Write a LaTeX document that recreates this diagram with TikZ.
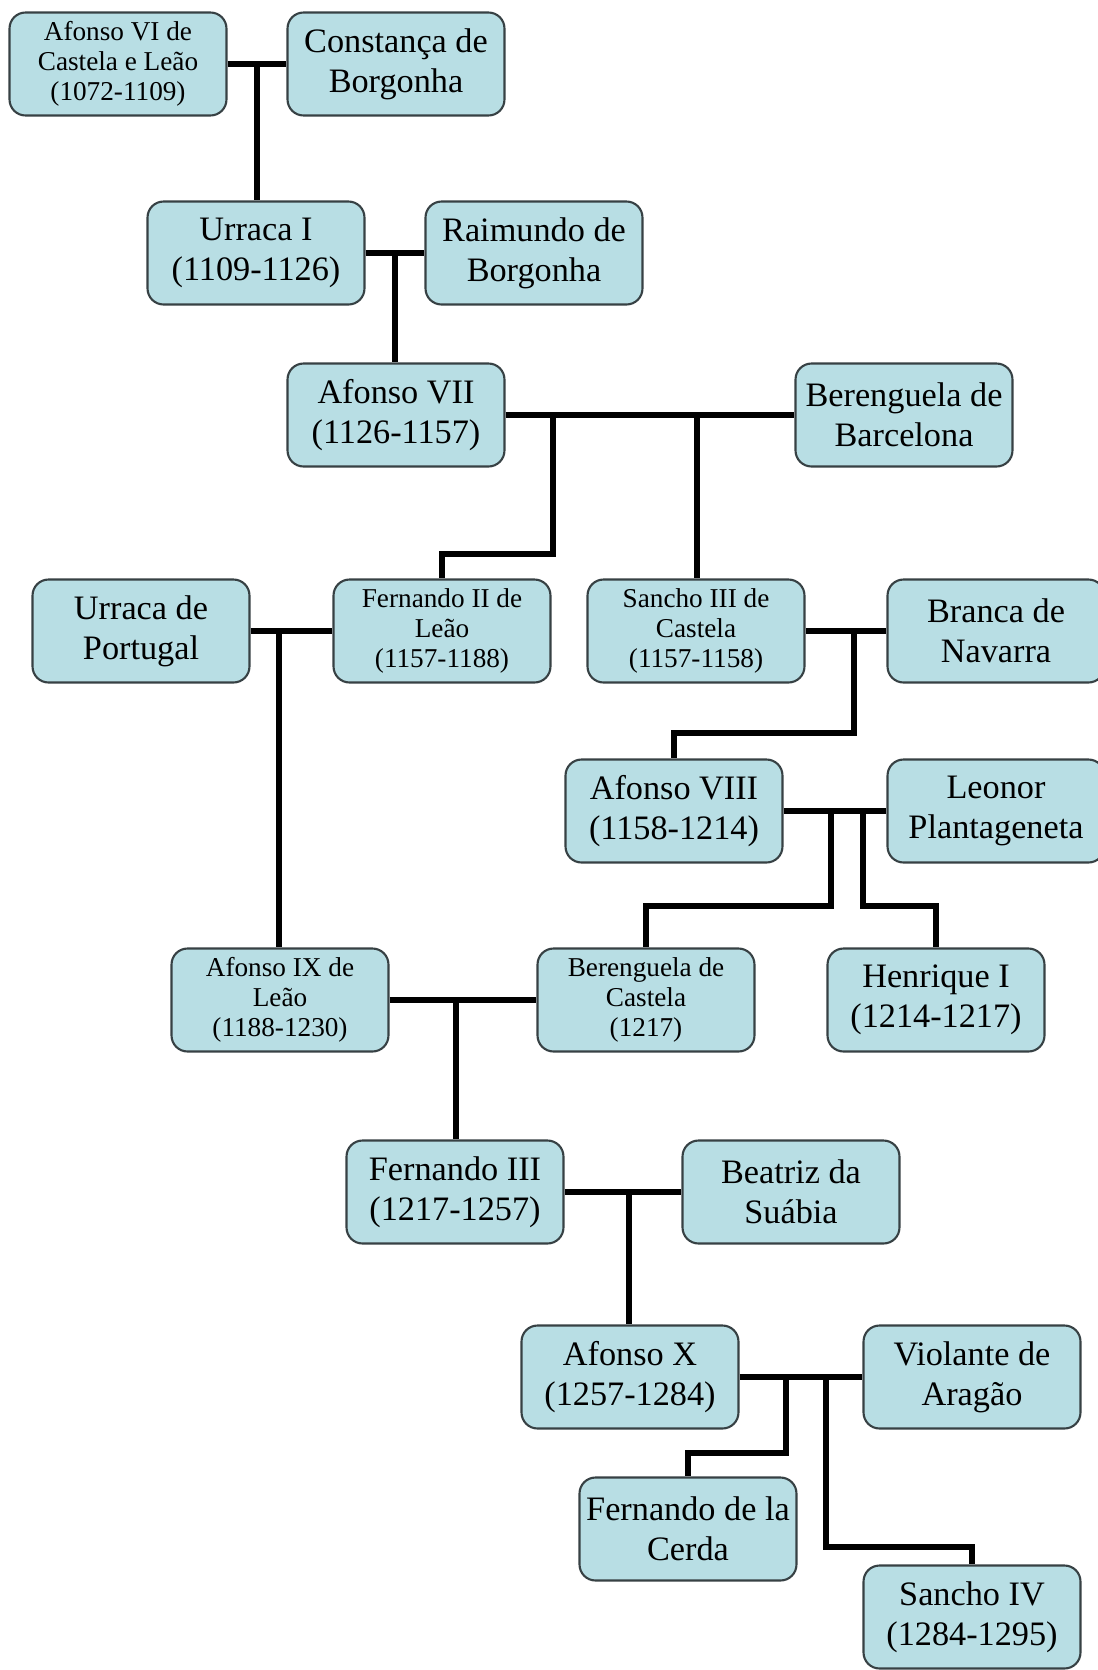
\documentclass[tikz,border=0pt]{standalone}
\usepackage{fontspec}
\setmainfont{Liberation Serif}
\usepackage{tikz}
\usetikzlibrary{positioning,calc}
\usepackage{xcolor}
\definecolor{caixa}{RGB}{184,222,228}
\definecolor{borda}{RGB}{55,65,68}

\tikzset{
  pessoa/.style={draw=borda,line width=1.2pt,fill=caixa,rounded corners=0.32cm,
    minimum width=4.34cm,minimum height=2.06cm,inner sep=0pt,align=center,
    font=\fontsize{19.5}{22.8}\selectfont},
  pessoapeq/.style={pessoa,font=\fontsize{15.5}{17}\selectfont},
  linha/.style={line width=3.3pt,line join=miter}
}

\begin{document}
\begin{tikzpicture}[x=0.02cm,y=-0.02cm]
\useasboundingbox (0,0) rectangle (1098,1670);
\node[pessoapeq] (afonsoVI) at (118,64) {Afonso VI de\\Castela e Leão\\(1072-1109)};
\node[pessoa] (constanca) at (396,64) {Constança de\\Borgonha};
\node[pessoa] (urracaI) at (256,253) {Urraca I\\(1109-1126)};
\node[pessoa] (raimundo) at (534,253) {Raimundo de\\Borgonha};
\node[pessoa] (afonsoVII) at (396,415) {Afonso VII\\(1126-1157)};
\node[pessoa] (berBarcelona) at (904,415) {Berenguela de\\Barcelona};
\node[pessoa] (urracaPort) at (141,631) {Urraca de\\Portugal};
\node[pessoapeq] (fernandoII) at (442,631) {Fernando II de\\Leão\\(1157-1188)};
\node[pessoapeq] (sanchoIII) at (696,631) {Sancho III de\\Castela\\(1157-1158)};
\node[pessoa] (branca) at (996,631) {Branca de\\Navarra};
\node[pessoa] (afonsoVIII) at (674,811) {Afonso VIII\\(1158-1214)};
\node[pessoa] (leonor) at (996,811) {Leonor\\Plantageneta};
\node[pessoapeq] (afonsoIX) at (280,1000) {Afonso IX de\\Leão\\(1188-1230)};
\node[pessoapeq] (berCastela) at (646,1000) {Berenguela de\\Castela\\(1217)};
\node[pessoa] (henriqueI) at (936,1000) {Henrique I\\(1214-1217)};
\node[pessoa] (fernandoIII) at (455,1192) {Fernando III\\(1217-1257)};
\node[pessoa] (beatriz) at (791,1192) {Beatriz da\\Suábia};
\node[pessoa] (afonsoX) at (630,1377) {Afonso X\\(1257-1284)};
\node[pessoa] (violante) at (972,1377) {Violante de\\Aragão};
\node[pessoa] (cerda) at (688,1529) {Fernando de la\\Cerda};
\node[pessoa] (sanchoIV) at (972,1617) {Sancho IV\\(1284-1295)};

\coordinate (c1) at (257,64);
\coordinate (c2) at (395,253);
\coordinate (c3a) at (553,415);
\coordinate (c3b) at (697,415);
\coordinate (c4) at (279,631);
\coordinate (c5) at (854,631);
\coordinate (c6a) at (831,811);
\coordinate (c6b) at (863,811);
\coordinate (c7) at (456,1000);
\coordinate (c8) at (629,1192);
\coordinate (c9a) at (786,1377);
\coordinate (c9b) at (826,1377);

\draw[linha] (afonsoVI) -- (constanca);
\draw[linha] (c1) -- (c1 |- urracaI.north);
\draw[linha] (urracaI) -- (raimundo);
\draw[linha] (c2) -- (c2 |- afonsoVII.north);
\draw[linha] (afonsoVII) -- (berBarcelona);
\draw[linha] (c3a) -- (553,554) -| (fernandoII.north);
\draw[linha] (c3b) -- (c3b |- sanchoIII.north);
\draw[linha] (urracaPort) -- (fernandoII);
\draw[linha] (c4) -- (c4 |- afonsoIX.north);
\draw[linha] (sanchoIII) -- (branca);
\draw[linha] (c5) -- (854,733) -| (afonsoVIII.north);
\draw[linha] (afonsoVIII) -- (leonor);
\draw[linha] (c6a) -- (831,906) -| (berCastela.north);
\draw[linha] (c6b) -- (863,906) -| (henriqueI.north);
\draw[linha] (afonsoIX) -- (berCastela);
\draw[linha] (c7) -- (c7 |- fernandoIII.north);
\draw[linha] (fernandoIII) -- (beatriz);
\draw[linha] (c8) -- (c8 |- afonsoX.north);
\draw[linha] (afonsoX) -- (violante);
\draw[linha] (c9a) -- (786,1453) -| (cerda.north);
\draw[linha] (c9b) -- (826,1547) -| (sanchoIV.north);
\end{tikzpicture}
\end{document}
